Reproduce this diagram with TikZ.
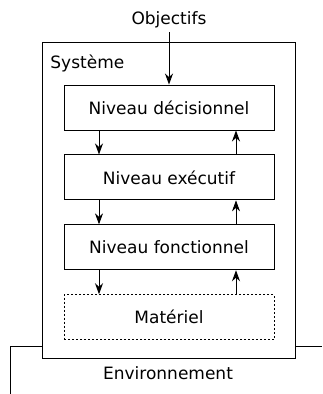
\documentclass[tikz,border=0pt]{standalone}
\usepackage{fontspec}
\setmainfont{DejaVu Sans}
\usetikzlibrary{arrows.meta,positioning}

\tikzset{
  niveau/.style={draw,minimum width=210pt,minimum height=45pt,inner sep=0pt},
  cadre/.style={draw,minimum width=253pt,minimum height=316pt,inner sep=0pt,anchor=north west}
}

\begin{document}
\begin{tikzpicture}[x=1pt,y=-1pt,line width=0.9pt,
    >={Stealth[length=11pt,width=8pt,inset=3.5pt]},
    font=\fontsize{17}{20}\selectfont,node distance=24pt]
  \useasboundingbox (0,0) rectangle (322,394);
  % cadre du systeme
  \node[cadre] (sys) at (42,42) {};
  \node[anchor=west,inner sep=0pt] (syslbl) at (50,63) {Système};
  % niveaux
  \node[niveau] (dec) at (169,107.5) {Niveau décisionnel};
  \node[niveau,below=of dec] (exe) {Niveau exécutif};
  \node[niveau,below=of exe] (fon) {Niveau fonctionnel};
  \node[niveau,below=of fon,dash pattern=on 2pt off 2pt] (mat) {Matériel};
  % entree / sortie
  \node (obj) at (169,20) {Objectifs};
  \node (env) at (168,373) {Environnement};
  \draw[->] (obj) -- (dec);
  \coordinate (dl) at (99,0);
  \coordinate (ul) at (236,0);
  \draw[->] (dec.south -| dl) -- (exe.north -| dl);
  \draw[->] (exe.south -| dl) -- (fon.north -| dl);
  \draw[->] (fon.south -| dl) -- (mat.north -| dl);
  \draw[->] (exe.north -| ul) -- (dec.south -| ul);
  \draw[->] (fon.north -| ul) -- (exe.south -| ul);
  \draw[->] (mat.north -| ul) -- (fon.south -| ul);
  % environnement
  \coordinate (envy) at (0,346);
  \draw (sys.west |- envy) -- (10,346) -- (10,394);
  \draw (sys.east |- envy) -- (322,346);
\end{tikzpicture}
\end{document}
